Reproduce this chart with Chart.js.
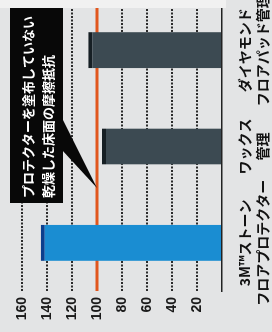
<!DOCTYPE html>
<html>
<head>
<meta charset="utf-8">
<script src="https://cdn.jsdelivr.net/npm/chart.js@4/dist/chart.umd.min.js"></script>
<style>
  body { margin: 0; background: #e3e4e5; }
  #wrap { position: relative; width: 272px; height: 332px; overflow: hidden; }
  #rot {
    position: absolute; left: 0; top: 332px;
    width: 345px; height: 272px;
    transform-origin: 0 0; transform: rotate(-90deg);
  }
</style>
</head>
<body>
<div id="wrap">
  <div id="rot"><canvas id="chartDiv" width="345" height="272"></canvas></div>
</div>
<script>
const categories = [
  ["3M™ストーン", "フロアプロテクター"],
  ["ワックス", "管理"],
  ["ダイヤモンド", "フロアパッド管理"],
];
const values = [145, 96, 107];
const barColors = ["#1a8dd2", "#3c4a52", "#3c4a52"];
const barEdgeColors = ["#0b3f8e", "#161f24", "#161f24"];
const yMin = 0, yMax = 160, yStep = 20;
const refValue = 100;
const noteLines = ["プロテクターを塗布していない", "乾燥した床面の摩擦抵抗"];

const jpFont = "'Noto Sans CJK JP', 'Noto Sans', sans-serif";

// red reference line, behind the bars
const refLinePlugin = {
  id: "refLine",
  beforeDatasetsDraw(chart) {
    const { ctx, chartArea, scales } = chart;
    const y = scales.y.getPixelForValue(refValue);
    ctx.save();
    ctx.strokeStyle = "#e1561d";
    ctx.lineWidth = 3;
    ctx.beginPath();
    ctx.moveTo(chartArea.left, y);
    ctx.lineTo(chartArea.right, y);
    ctx.stroke();
    ctx.restore();
  },
};

// light strip at the cut edge + black note box with arrow
const notePlugin = {
  id: "note",
  afterDraw(chart) {
    const { ctx, scales } = chart;
    const tipY = scales.y.getPixelForValue(refValue);
    ctx.save();
    ctx.fillStyle = "#f1f1f1";
    ctx.fillRect(324, 0, 30, scales.y.getPixelForValue(0) + 4);

    ctx.fillStyle = "#080808";
    ctx.fillRect(129, 10, 195, 53);
    ctx.beginPath();
    ctx.moveTo(214, 62);
    ctx.lineTo(182, 62);
    ctx.lineTo(144, tipY);
    ctx.closePath();
    ctx.fill();

    ctx.fillStyle = "#ffffff";
    ctx.font = "bold 13px " + jpFont;
    ctx.textBaseline = "middle";
    ctx.textAlign = "left";
    ctx.fillText(noteLines[0], 134, 28);
    ctx.fillText(noteLines[1], 134, 48);
    ctx.restore();
  },
};

const ctx = document.getElementById("chartDiv");
const chart = new Chart(ctx, {
  type: "bar",
  data: {
    labels: categories,
    datasets: [
      {
        data: values,
        backgroundColor: barColors,
        borderColor: barEdgeColors,
        borderWidth: { top: 4, left: 0, right: 0, bottom: 0 },
        borderSkipped: false,
        categoryPercentage: 1,
        barPercentage: 0.375,
      },
    ],
  },
  options: {
    responsive: false,
    animation: false,
    events: [],
    layout: { padding: { top: 22, right: 7, left: 0, bottom: 0 } },
    plugins: { legend: { display: false }, tooltip: { enabled: false } },
    scales: {
      x: {
        grid: { display: false },
        border: { display: true, color: "#222", width: 1.5 },
        ticks: {
          color: "#111",
          padding: 6,
          autoSkip: false,
          maxRotation: 0,
          font: { family: jpFont, size: 14, weight: "bold", lineHeight: 1.25 },
        },
        afterFit: (s) => { s.height = 50; },
      },
      y: {
        min: yMin,
        max: yMax,
        grid: {
          drawTicks: false,
          lineWidth: 2,
          color: (c) => (c.tick && (c.tick.value === 0 || c.tick.value === refValue) ? "rgba(0,0,0,0)" : "#2b2b2b"),
        },
        border: { display: false, dash: [2, 1.5] },
        ticks: {
          stepSize: yStep,
          padding: 6,
          color: "#1a1a1a",
          font: { family: "'Liberation Sans', Arial, sans-serif", size: 14, weight: "bold" },
          callback: (v) => (v === 0 ? "" : v),
        },
        afterFit: (s) => { s.width = 41; },
      },
    },
  },
  plugins: [refLinePlugin, notePlugin],
});
</script>
</body>
</html>
